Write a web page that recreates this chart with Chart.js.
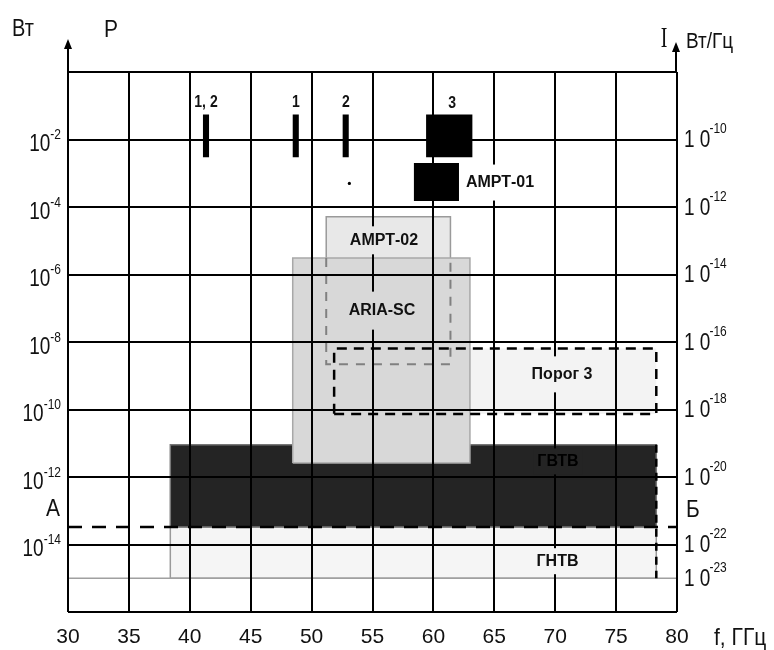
<!DOCTYPE html>
<html><head><meta charset="utf-8">
<script src="https://cdn.jsdelivr.net/npm/chart.js@4.4.1/dist/chart.umd.min.js"></script>
<style>html,body{margin:0;padding:0;background:#fff}</style>
</head><body>
<canvas id="c" width="774" height="650"></canvas>
<script>
// ---- axes / ticks ----
const freqTicks = [30, 35, 40, 45, 50, 55, 60, 65, 70, 75, 80];
const powerGridExp = [0, -2, -4, -6, -8, -10, -12, -14, -16];
const powerLabelExp = [-2, -4, -6, -8, -10, -12, -14];
const densityLabelExp = [-10, -12, -14, -16, -18, -20, -22, -23];
const densityOffsetDecades = 8;

// ---- bands: frequency range (GHz), power range (W) ----
const gntvF = [38.4, 78.3];   const gntvP = [1e-15, 3.3e-14];
const gvtvF = [38.4, 78.3];   const gvtvP = [3.3e-14, 9.1e-12];
const porog3F = [51.85, 78.3]; const porog3P = [7.4e-11, 6.4e-9];
const ariaF = [48.45, 63.0];  const ariaP = [2.6e-12, 3.1e-6];
const ampt02F = [51.2, 61.4]; const ampt02P = [2.2e-9, 5.1e-5];
const ampt01F = [58.4, 62.1]; const ampt01P = [1.5e-4, 2.0e-3];
const src3F = [59.4, 63.2];   const src3P = [3.0e-3, 5.5e-2];
const src12F = [41.08, 41.58]; const src12P = [3.0e-3, 5.5e-2];
const src1F = [48.45, 48.95]; const src1P = [3.0e-3, 5.5e-2];
const src2F = [52.55, 53.05]; const src2P = [3.0e-3, 5.5e-2];
const dotF = [53.1];          const dotP = [5.0e-4];
const levelAB = 3.3e-14;
const floorLevel = 1e-15;

// ---- text annotations (data coordinates) ----
const labels = [
  {t: 'АМРТ-01', f: 65.47, p: 5.3e-4, bg: '#ffffff', h: 36, s: 16, color: '#111'},
  {t: 'АМРТ-02', f: 55.94, p: 1.03e-5, bg: '#e8e8e8', h: 28, s: 16, color: '#111'},
  {t: 'ARIA-SC', f: 55.78, p: 8.5e-8, bg: '#d8d8d8', h: 38, s: 16, color: '#111'},
  {t: 'Порог 3', f: 70.56, p: 1.1e-9, bg: '#f3f3f3', h: 36, s: 16, color: '#111'},
  {t: 'ГВТВ', f: 70.23, p: 2.9e-12, bg: '#242424', h: 26, s: 16, color: '#000'},
  {t: 'ГНТВ', f: 70.19, p: 3.2e-15, bg: '#f5f5f5', h: 26, s: 16, color: '#111'},
  {t: '1, 2', f: 41.33, p: 0.13, bg: null, s: 14, color: '#111'},
  {t: '1', f: 48.72, p: 0.13, bg: null, s: 14, color: '#111'},
  {t: '2', f: 52.82, p: 0.13, bg: null, s: 14, color: '#111'},
  {t: '3', f: 61.53, p: 0.117, bg: null, s: 14, color: '#111'}
];

function rect(f, p) {
  return [{x: f[0], y: p[0]}, {x: f[1], y: p[0]}, {x: f[1], y: p[1]}, {x: f[0], y: p[1]}, {x: f[0], y: p[0]}];
}
function ds(data, o) {
  return Object.assign({data, showLine: true, fill: false, tension: 0, pointRadius: 0, pointHoverRadius: 0,
    backgroundColor: 'transparent', borderColor: 'transparent', borderWidth: 0, borderDash: []}, o);
}

const datasets = [
  ds(rect(gntvF, gntvP), {fill: 'shape', backgroundColor: '#f5f5f5', borderColor: '#9a9a9a', borderWidth: 1.5, order: 100}),
  ds([{x: freqTicks[0], y: floorLevel}, {x: freqTicks[freqTicks.length - 1], y: floorLevel}], {borderColor: '#a0a0a0', borderWidth: 1.5, order: 99}),
  ds(rect(gvtvF, gvtvP), {fill: 'shape', backgroundColor: '#242424', borderColor: '#777', borderWidth: 1.5, order: 98}),
  ds(rect(porog3F, porog3P), {fill: 'shape', backgroundColor: '#f3f3f3', order: 97}),
  ds(rect(ampt02F, ampt02P), {fill: 'shape', backgroundColor: '#e8e8e8', borderColor: '#9a9a9a', borderWidth: 1.5, order: 96}),
  ds(rect(ariaF, ariaP), {fill: 'shape', backgroundColor: '#d8d8d8', borderColor: '#a8a8a8', borderWidth: 1.5, order: 95}),
  ds([{x: ampt02F[0], y: ariaP[1]}, {x: ampt02F[0], y: ampt02P[0]}, {x: ampt02F[1], y: ampt02P[0]}, {x: ampt02F[1], y: ariaP[1]}],
     {borderColor: '#808080', borderWidth: 2, borderDash: [9, 8], order: 94}),
  ds(rect(porog3F, porog3P), {borderColor: '#000', borderWidth: 2.5, borderDash: [10, 7], order: 93}),
  ds([{x: freqTicks[0], y: levelAB}, {x: freqTicks[freqTicks.length - 1], y: levelAB}], {borderColor: '#000', borderWidth: 2.5, borderDash: [14, 10], order: 92}),
  ds([{x: gvtvF[1], y: gvtvP[1]}, {x: gvtvF[1], y: gntvP[0]}], {borderColor: '#000', borderWidth: 2.5, borderDash: [8, 6], order: 91}),
  ds(rect(src3F, src3P), {fill: 'shape', backgroundColor: '#000', order: 90}),
  ds(rect(ampt01F, ampt01P), {fill: 'shape', backgroundColor: '#000', order: 89}),
  ds(rect(src12F, src12P), {fill: 'shape', backgroundColor: '#000', order: 88}),
  ds(rect(src1F, src1P), {fill: 'shape', backgroundColor: '#000', order: 87}),
  ds(rect(src2F, src2P), {fill: 'shape', backgroundColor: '#000', order: 86}),
  {data: dotF.map((f, i) => ({x: f, y: dotP[i]})), showLine: false, pointRadius: 1.6, backgroundColor: '#000', borderWidth: 0, order: 85}
];

function txt(ctx, s, x, y, font, align, base, sy, color) {
  ctx.save();
  ctx.font = font; ctx.textAlign = align; ctx.textBaseline = base; ctx.fillStyle = color || '#111';
  ctx.translate(x, y); ctx.scale(1, sy);
  ctx.fillText(s, 0, 0);
  ctx.restore();
}

const FONT = '"Liberation Sans", Arial, sans-serif';

const decor = {
  id: 'decor',
  afterDraw(chart) {
    const ctx = chart.ctx, a = chart.chartArea;
    const xs = chart.scales.x, ys = chart.scales.y, y2 = chart.scales.y2;
    // axis arrows
    ctx.save();
    ctx.strokeStyle = '#000'; ctx.fillStyle = '#000'; ctx.lineWidth = 2;
    [[a.left, 39], [a.right - 1, 42]].forEach(([x, tip]) => {
      ctx.beginPath(); ctx.moveTo(x, a.top); ctx.lineTo(x, tip + 8); ctx.stroke();
      ctx.beginPath(); ctx.moveTo(x, tip); ctx.lineTo(x - 4, tip + 10); ctx.lineTo(x + 4, tip + 10); ctx.closePath(); ctx.fill();
    });
    ctx.restore();

    // annotation labels
    labels.forEach(l => {
      const x = xs.getPixelForValue(l.f), y = ys.getPixelForValue(l.p);
      const font = 'bold ' + l.s + 'px ' + FONT;
      ctx.save();
      ctx.font = font;
      const w = ctx.measureText(l.t).width;
      if (l.bg) { ctx.fillStyle = l.bg; ctx.fillRect(x - w / 2 - 4, y - l.h / 2, w + 8, l.h); }
      ctx.restore();
      txt(ctx, l.t, x, y, font, 'center', 'middle', l.s > 14 ? 1.0 : 1.2, l.color);
    });

    // left tick labels (power, W)
    powerLabelExp.forEach(e => {
      const y = ys.getPixelForValue(Number('1e' + e));
      ctx.save();
      ctx.font = '19px ' + FONT; const w1 = ctx.measureText('10').width;
      ctx.font = '12px ' + FONT; const w2 = ctx.measureText(String(e)).width;
      ctx.restore();
      const x0 = a.left - 7 - w1 - w2;
      txt(ctx, '10', x0, y + 5, '19px ' + FONT, 'left', 'middle', 1.25);
      txt(ctx, String(e), x0 + w1, y - 4, '12px ' + FONT, 'left', 'middle', 1.2);
    });
    // right tick labels (spectral density, W/Hz)
    densityLabelExp.forEach(e => {
      const y = y2.getPixelForValue(Number('1e' + e));
      ctx.save(); ctx.font = '19px ' + FONT; const w1 = ctx.measureText('1 0').width; ctx.restore();
      const x0 = a.right + 7;
      txt(ctx, '1 0', x0, y + 1, '19px ' + FONT, 'left', 'middle', 1.25);
      txt(ctx, String(e), x0 + w1 - 1, y - 10, '12px ' + FONT, 'left', 'middle', 1.2);
    });

    // axis titles
    txt(ctx, 'Вт', 12, 30, '20px ' + FONT, 'left', 'middle', 1.15);
    txt(ctx, 'P', 104, 30, '21px ' + FONT, 'left', 'middle', 1.15);
    txt(ctx, 'I', 664, 39, '20px "Liberation Serif", serif', 'center', 'middle', 1.45);
    txt(ctx, 'Вт/Гц', 686, 42, '19px ' + FONT, 'left', 'middle', 1.2);
    txt(ctx, 'f, ГГц', 714, 638, '21px ' + FONT, 'left', 'middle', 1.15);
    txt(ctx, 'A', 53, 509, '21px ' + FONT, 'center', 'middle', 1.15);
    txt(ctx, 'Б', 693, 510, '21px ' + FONT, 'center', 'middle', 1.15);
  }
};

new Chart(document.getElementById('c'), {
  type: 'scatter',
  data: {datasets},
  plugins: [decor],
  options: {
    responsive: false, animation: false, events: [],
    layout: {padding: {top: 72, left: 0, right: 0, bottom: 0}},
    plugins: {legend: {display: false}, tooltip: {enabled: false}},
    scales: {
      x: {
        type: 'linear', min: freqTicks[0], max: freqTicks[freqTicks.length - 1],
        afterBuildTicks: s => { s.ticks = freqTicks.map(v => ({value: v})); },
        afterFit: s => { s.height = 38; },
        grid: {color: '#000', lineWidth: 2, drawTicks: false, z: 1},
        border: {display: false},
        ticks: {padding: 13, color: '#111', autoSkip: false, maxRotation: 0, font: {family: 'Liberation Sans', size: 21}}
      },
      y: {
        type: 'logarithmic', min: 1e-16, max: 1,
        afterBuildTicks: s => { s.ticks = powerGridExp.map(e => ({value: Number('1e' + e)})); },
        afterFit: s => { s.width = 68; },
        grid: {color: '#000', lineWidth: 2, drawTicks: false, z: 1},
        border: {display: false},
        ticks: {display: false}
      },
      y2: {
        type: 'logarithmic', position: 'right',
        min: Number('1e' + (-16 - densityOffsetDecades)), max: Number('1e' + (0 - densityOffsetDecades)),
        afterBuildTicks: s => { s.ticks = densityLabelExp.map(e => ({value: Number('1e' + e)})); },
        afterFit: s => { s.width = 97; },
        grid: {display: false, drawTicks: false},
        border: {display: false},
        ticks: {display: false}
      }
    }
  }
});
</script>
</body></html>
